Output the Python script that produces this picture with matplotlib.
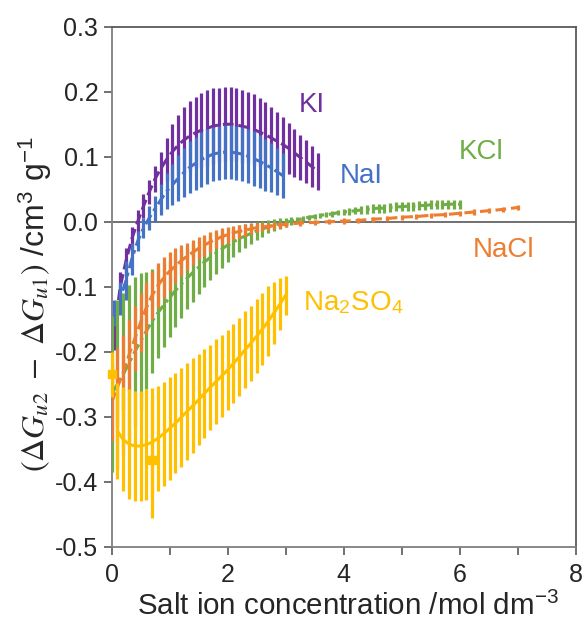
import matplotlib
matplotlib.use('Agg')
import matplotlib.pyplot as plt

plt.rcParams['font.family'] = ['Liberation Sans', 'DejaVu Sans']
plt.rcParams['mathtext.fontset'] = 'stix'

# KI (purple)
ki_x = [0.05, 0.15, 0.25, 0.35, 0.45, 0.55, 0.65, 0.75, 0.85, 0.95,
        1.05, 1.15, 1.25, 1.35, 1.45, 1.55, 1.65, 1.75, 1.85, 1.95,
        2.05, 2.15, 2.25, 2.35, 2.45, 2.55, 2.65, 2.75, 2.85, 2.95,
        3.05, 3.15, 3.25, 3.35, 3.45, 3.55]
ki_y = [-0.168, -0.100, -0.060, -0.026, 0.000, 0.024, 0.046, 0.066, 0.082, 0.096,
        0.108, 0.118, 0.126, 0.132, 0.137, 0.141, 0.144, 0.147, 0.149, 0.150,
        0.150, 0.149, 0.147, 0.145, 0.142, 0.138, 0.134, 0.129, 0.124, 0.119,
        0.113, 0.106, 0.099, 0.092, 0.085, 0.077]
ki_err = [0.030, 0.022, 0.020, 0.018, 0.018, 0.018, 0.018, 0.020, 0.025, 0.033,
          0.042, 0.046, 0.051, 0.054, 0.055, 0.057, 0.058, 0.058, 0.057, 0.057,
          0.057, 0.056, 0.056, 0.055, 0.054, 0.052, 0.050, 0.048, 0.045, 0.042,
          0.039, 0.037, 0.035, 0.033, 0.031, 0.028]

# NaI (blue)
nai_x = [0.05, 0.15, 0.25, 0.35, 0.45, 0.55, 0.65, 0.75, 0.85, 0.95,
         1.05, 1.15, 1.25, 1.35, 1.45, 1.55, 1.65, 1.75, 1.85, 1.95,
         2.05, 2.15, 2.25, 2.35, 2.45, 2.55, 2.65, 2.75, 2.85, 2.95]
nai_y = [-0.140, -0.118, -0.090, -0.057, -0.030, -0.010, 0.006, 0.020, 0.034, 0.047,
         0.057, 0.067, 0.076, 0.084, 0.090, 0.096, 0.100, 0.104, 0.106, 0.107,
         0.107, 0.106, 0.104, 0.101, 0.097, 0.093, 0.088, 0.083, 0.077, 0.071]
nai_err = [0.020, 0.025, 0.030, 0.025, 0.015, 0.015, 0.018, 0.020, 0.024, 0.028,
           0.032, 0.035, 0.038, 0.040, 0.041, 0.042, 0.042, 0.042, 0.042, 0.042,
           0.042, 0.042, 0.042, 0.042, 0.042, 0.041, 0.040, 0.038, 0.036, 0.034]

# KCl (green)
kcl_x = [0.0, 0.1, 0.2, 0.3, 0.4, 0.5, 0.6, 0.7, 0.8, 0.9,
         1.0, 1.1, 1.2, 1.3, 1.4, 1.5, 1.6, 1.7, 1.8, 1.9,
         2.0, 2.1, 2.2, 2.3, 2.4, 2.5, 2.6, 2.7, 2.8, 2.9,
         3.0, 3.1, 3.2, 3.3, 3.4, 3.5, 3.6, 3.7, 3.8, 3.9,
         4.0, 4.1, 4.2, 4.3, 4.4, 4.5, 4.6, 4.7, 4.8, 4.9,
         5.0, 5.1, 5.2, 5.3, 5.4, 5.5, 5.6, 5.7, 5.8, 5.9, 6.0]
kcl_y = [-0.265, -0.250, -0.235, -0.218, -0.200, -0.184, -0.168, -0.153, -0.140, -0.128,
         -0.117, -0.106, -0.096, -0.087, -0.078, -0.070, -0.062, -0.055, -0.048, -0.042,
         -0.036, -0.031, -0.026, -0.022, -0.018, -0.014, -0.011, -0.008, -0.005, -0.003,
         -0.001, 0.001, 0.003, 0.005, 0.007, 0.008, 0.010, 0.011, 0.012, 0.014,
         0.015, 0.016, 0.017, 0.018, 0.019, 0.020, 0.021, 0.021, 0.022, 0.023,
         0.023, 0.024, 0.024, 0.025, 0.025, 0.026, 0.026, 0.026, 0.027, 0.027, 0.027]
kcl_err = [0.120, 0.130, 0.125, 0.120, 0.115, 0.105, 0.090, 0.080, 0.070, 0.065,
           0.060, 0.056, 0.052, 0.048, 0.045, 0.041, 0.038, 0.035, 0.032, 0.029,
           0.026, 0.023, 0.021, 0.018, 0.016, 0.014, 0.012, 0.010, 0.009, 0.008,
           0.007, 0.006, 0.005, 0.004, 0.004, 0.004, 0.004, 0.004, 0.004, 0.004,
           0.004, 0.005, 0.005, 0.006, 0.007, 0.007, 0.007, 0.007, 0.007, 0.007,
           0.007, 0.007, 0.007, 0.007, 0.007, 0.007, 0.007, 0.007, 0.007, 0.007, 0.007]

# NaCl (orange)
nacl_x = [0.0, 0.1, 0.2, 0.3, 0.4, 0.5, 0.6, 0.7, 0.8, 0.9,
          1.0, 1.1, 1.2, 1.3, 1.4, 1.5, 1.6, 1.7, 1.8, 1.9,
          2.0, 2.1, 2.2, 2.3, 2.4, 2.5, 2.6, 2.7, 2.8, 2.9,
          3.0, 3.25, 3.5, 3.75, 4.0, 4.25, 4.5, 4.75, 5.0, 5.25,
          5.5, 5.75, 6.0, 6.25, 6.5, 6.75, 7.0]
nacl_y = [-0.278, -0.255, -0.232, -0.205, -0.180, -0.155, -0.132, -0.113, -0.098, -0.086,
          -0.076, -0.068, -0.060, -0.053, -0.047, -0.041, -0.036, -0.031, -0.027, -0.023,
          -0.020, -0.017, -0.015, -0.013, -0.011, -0.009, -0.008, -0.007, -0.006, -0.005,
          -0.004, -0.002, -0.001, 0.000, 0.001, 0.002, 0.004, 0.005, 0.007, 0.008,
          0.010, 0.011, 0.013, 0.015, 0.017, 0.019, 0.022]
nacl_err = [0.060, 0.060, 0.058, 0.055, 0.050, 0.045, 0.040, 0.037, 0.035, 0.032,
            0.030, 0.027, 0.024, 0.021, 0.019, 0.017, 0.016, 0.015, 0.014, 0.013,
            0.012, 0.011, 0.010, 0.009, 0.008, 0.007, 0.006, 0.005, 0.005, 0.004,
            0.004, 0.004, 0.004, 0.004, 0.004, 0.004, 0.004, 0.004, 0.004, 0.004,
            0.004, 0.004, 0.004, 0.004, 0.004, 0.004, 0.004]

# Na2SO4 (yellow)
na2so4_x = [0.1, 0.2, 0.3, 0.4, 0.5, 0.6, 0.7, 0.8, 0.9, 1.0,
            1.1, 1.2, 1.3, 1.4, 1.5, 1.6, 1.7, 1.8, 1.9, 2.0,
            2.1, 2.2, 2.3, 2.4, 2.5, 2.6, 2.7, 2.8, 2.9, 3.0]
na2so4_y = [-0.322, -0.335, -0.342, -0.345, -0.345, -0.343, -0.339, -0.333, -0.326, -0.318,
            -0.310, -0.301, -0.292, -0.283, -0.274, -0.264, -0.255, -0.246, -0.237, -0.228,
            -0.218, -0.208, -0.197, -0.187, -0.176, -0.165, -0.153, -0.140, -0.127, -0.113]
na2so4_err = [0.074, 0.080, 0.084, 0.085, 0.085, 0.085, 0.083, 0.081, 0.080, 0.079,
              0.077, 0.076, 0.074, 0.073, 0.070, 0.068, 0.066, 0.065, 0.063, 0.062,
              0.061, 0.060, 0.059, 0.058, 0.057, 0.056, 0.054, 0.048, 0.040, 0.030]

# separate Na2SO4 square points
sq_x = [0.0, 0.69]
sq_y = [-0.235, -0.366]
sq_err = [0.035, 0.09]

series = [
    ('KI', ki_x, ki_y, ki_err, '#7030A0', (3.5, 1.6)),
    ('NaI', nai_x, nai_y, nai_err, '#4472C4', (3.5, 1.5, 1.2, 1.5)),
    ('KCl', kcl_x, kcl_y, kcl_err, '#70AD47', (3.5, 1.5, 1.0, 1.5)),
    ('NaCl', nacl_x, nacl_y, nacl_err, '#ED7D31', (3.5, 1.6)),
    ('Na2SO4', na2so4_x, na2so4_y, na2so4_err, '#FFC000', None),
]

# label text positions (left x, baseline y)
labels = [
    ('KI', 3.23, 0.169, '#7030A0'),
    ('NaI', 3.94, 0.059, '#4472C4'),
    ('KCl', 5.98, 0.097, '#70AD47'),
    ('NaCl', 6.23, -0.054, '#ED7D31'),
    (r'Na$_\mathregular{2}$SO$_\mathregular{4}$', 3.30, -0.136, '#FFC000'),
]

fig = plt.figure(figsize=(5.84, 6.22), dpi=100)
ax = fig.add_axes([0.191, 0.121, 0.795, 0.836])

ax.axhline(0, color='#595959', lw=1.2, zorder=1)

z = 2
for name, x, y, err, col, dash in series:
    ax.errorbar(x, y, yerr=err, fmt='none', ecolor=col, elinewidth=2.3, capsize=0, zorder=z)
    if dash is None:
        ax.plot(x, y, color=col, lw=2.2, solid_capstyle='round', zorder=z + 1)
    else:
        ax.plot(x, y, color=col, lw=2.2, dashes=dash, zorder=z + 1)
    z += 2

ax.errorbar(sq_x, sq_y, yerr=sq_err, fmt='s', color='#FFC000', ms=6, elinewidth=2.3,
            capsize=0, zorder=z, clip_on=False)

for txt, lx, ly, col in labels:
    ax.text(lx, ly, txt, color=col, fontsize=20, va='baseline')

ax.set_xlim(0, 8)
ax.set_ylim(-0.5, 0.3)
ax.set_xticks([0, 2, 4, 6, 8])
ax.set_xticks([1, 3, 5, 7], minor=True)
ax.set_yticks([-0.5, -0.4, -0.3, -0.2, -0.1, 0.0, 0.1, 0.2, 0.3])
ax.set_yticklabels(['-0.5', '-0.4', '-0.3', '-0.2', '-0.1', '0.0', '0.1', '0.2', '0.3'])
ax.tick_params(axis='both', which='both', direction='out', length=6, width=1.2,
               color='#595959', labelsize=18, labelcolor='#262626')
ax.tick_params(axis='x', pad=6)

for side in ['left', 'bottom']:
    ax.spines[side].set_color('#7f7f7f')
    ax.spines[side].set_linewidth(1.3)
for side in ['top', 'right']:
    ax.spines[side].set_color('#595959')
    ax.spines[side].set_linewidth(1.3)

ax.set_xlabel(r'Salt ion concentration /mol dm$^\mathregular{-3}$', fontsize=18, color='#262626')
ax.set_ylabel(r'$(\Delta G_{u2}\ -\ \Delta G_{u1})$ /cm$^\mathregular{3}$ g$^\mathregular{-1}$',
              fontsize=18, color='#262626')

# size the axis titles to the span they take in the picture (px)
fig.canvas.draw()
r = fig.canvas.get_renderer()
xl = ax.xaxis.label
yl = ax.yaxis.label
xl.set_fontsize(18 * 423 / xl.get_window_extent(r).width)
yl.set_fontsize(18 * 337 / yl.get_window_extent(r).height)

xl.set_va('baseline')
ax.xaxis.set_label_coords(0.510, (546.7 - 615) / 520)
yl.set_va('center')
ax.yaxis.set_label_coords((35 - 111.7) / 464, (546.7 - 303.5) / 520)

fig.savefig('out.png', dpi=100)
